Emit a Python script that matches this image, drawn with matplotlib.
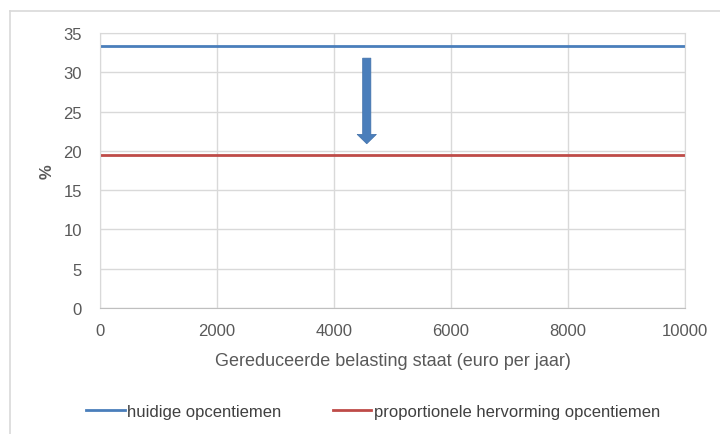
import matplotlib
matplotlib.use("Agg")
import matplotlib.pyplot as plt
from matplotlib.patches import FancyArrow
from matplotlib.lines import Line2D

# data
x_vals = [0, 10000]
huidig = [33.33, 33.33]
proportioneel = [19.5, 19.5]
x_ticks = [0, 2000, 4000, 6000, 8000, 10000]
y_ticks = [0, 5, 10, 15, 20, 25, 30, 35]
arrow_x = 4560
arrow_from = 31.8
arrow_to = 20.9

GREY = "#595959"
GRID = "#d9d9d9"
BLUE = "#4a7ebb"
RED = "#be4b48"

plt.rcParams["font.family"] = ["Liberation Sans", "DejaVu Sans"]

fig = plt.figure(figsize=(7.2, 4.35), dpi=100)
ax = fig.add_axes([100 / 720, 1 - 309 / 435, 585 / 720, 275 / 435])

ax.plot(x_vals, huidig, color=BLUE, lw=2, label="huidige opcentiemen")
ax.plot(x_vals, proportioneel, color=RED, lw=2,
        label="proportionele hervorming opcentiemen")

ax.add_patch(FancyArrow(arrow_x, arrow_from, 0, arrow_to - arrow_from,
                        width=140, head_width=330, head_length=1.2,
                        length_includes_head=True, color=BLUE, ec="#3f6fa8", lw=0.5,
                        zorder=4))

ax.set_xlim(0, 10000)
ax.set_ylim(0, 35)
ax.set_xticks(x_ticks)
ax.set_yticks(y_ticks)
ax.grid(True, color=GRID, lw=1)
ax.set_axisbelow(True)
for s in ax.spines.values():
    s.set_color(GRID)
ax.spines["bottom"].set_color("#bfbfbf")
ax.tick_params(length=0, colors=GREY, labelsize=12, pad=13)
ax.tick_params(axis="x", pad=11)

ax.set_xlabel("Gereduceerde belasting staat (euro per jaar)", color=GREY,
              fontsize=13, labelpad=10)
ax.set_ylabel("%", color=GREY, fontsize=12, labelpad=6, fontweight="bold")

ax.legend(loc="center", bbox_to_anchor=(0.467, -0.375), ncol=2, frameon=False,
          fontsize=12, labelcolor="#404040", handlelength=2.3, handletextpad=0.15,
          columnspacing=3.1)

# chart frame lines
fig.add_artist(Line2D([9.5 / 720, 9.5 / 720], [0, 1 - 12 / 435], color=GRID, lw=1.2))
fig.add_artist(Line2D([9.5 / 720, 1], [1 - 12 / 435, 1 - 12 / 435], color=GRID, lw=1.2))

fig.savefig("out.png", dpi=100)
